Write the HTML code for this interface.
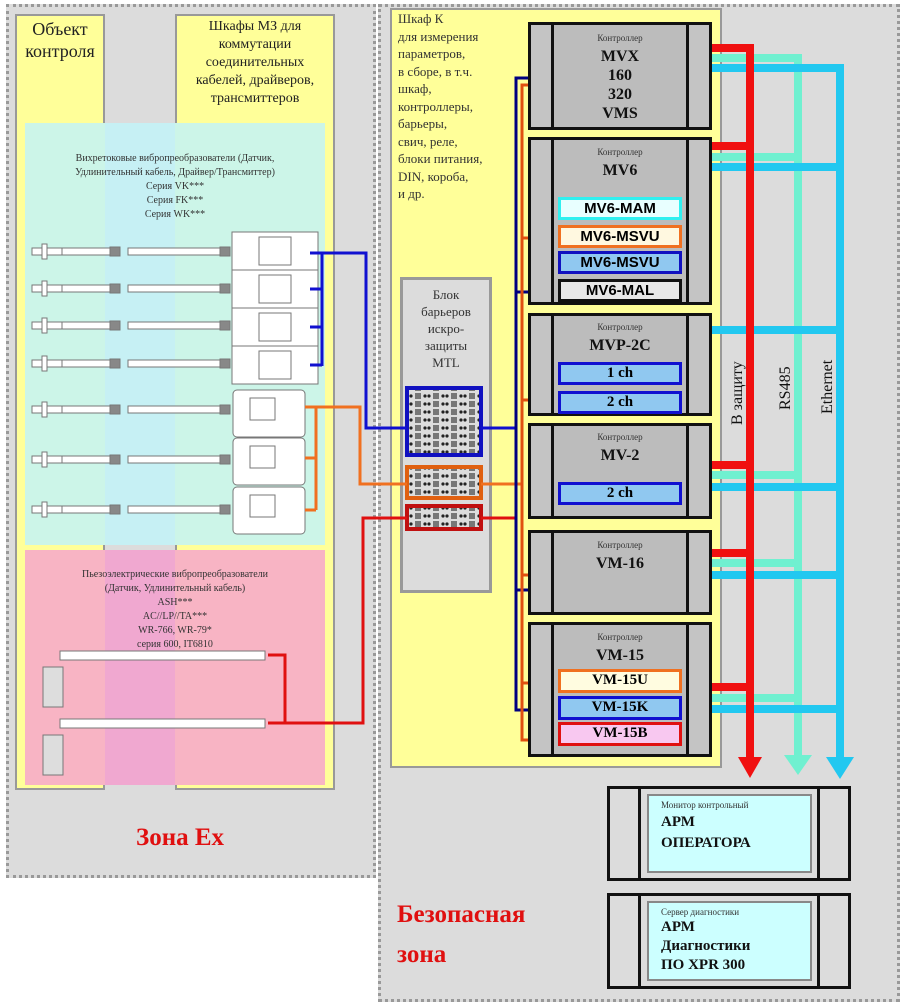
<!DOCTYPE html>
<html><head><meta charset="utf-8">
<style>
*{margin:0;padding:0;box-sizing:border-box}
body{width:904px;height:1005px;background:#fff;position:relative;overflow:hidden;font-family:"Liberation Serif",serif}
.a{position:absolute}
.zone{border:3px dotted #999;background:#dcdcdc}
.ctl{border:3px solid #111;background:#c4c4c4}
.ctl .m{position:absolute;left:20px;right:20px;top:0;bottom:0;border-left:3px solid #111;border-right:3px solid #111;background:#bcbcbc}
.sm{font-size:9px;color:#333;text-align:center}
.big{font-weight:bold;font-size:16px;text-align:center;line-height:19px;color:#111}
.sub{position:absolute;left:27px;right:27px;border:3px solid;font-weight:bold;text-align:center;font-size:15px;line-height:17px}
.ar{font-family:"Liberation Sans",sans-serif}
</style></head><body>
<div class="a zone" style="left:6px;top:4px;width:370px;height:874px"></div>
<div class="a zone" style="left:378px;top:4px;width:522px;height:998px"></div>
<div class="a" style="left:15px;top:14px;width:90px;height:776px;background:#ffff99;border:2px solid #999"></div>
<div class="a" style="left:175px;top:14px;width:160px;height:776px;background:#ffff99;border:2px solid #999"></div>
<div class="a" style="left:15px;top:18px;width:90px;text-align:center;font-size:18px;line-height:22px;color:#222">Объект контроля</div>
<div class="a" style="left:180px;top:18px;width:150px;text-align:center;font-size:14px;line-height:18px;color:#222">Шкафы МЗ для коммутации соединительных кабелей, драйверов, трансмиттеров</div>
<div class="a" style="left:25px;top:123px;width:300px;height:422px;background:#ccf5e8"></div>
<div class="a" style="left:105px;top:123px;width:70px;height:422px;background:#c6f0f4"></div>
<div class="a" style="left:25px;top:550px;width:300px;height:235px;background:#f8b4c4"></div>
<div class="a" style="left:105px;top:550px;width:70px;height:235px;background:#f0a8d0"></div>
<div class="a" style="left:25px;top:152px;width:300px;text-align:center;font-size:10px;line-height:14px;color:#333">Вихретоковые вибропреобразователи (Датчик,<br>Удлинительный кабель, Драйвер/Трансмиттер)<br>Серия VK***<br>Серия FK***<br>Серия WK***</div>
<div class="a" style="left:25px;top:568px;width:300px;text-align:center;font-size:10px;line-height:14px;color:#333">Пьезоэлектрические вибропреобразователи<br>(Датчик, Удлинительный кабель)<br>ASH***<br>AC//LP//TA***<br>WR-766, WR-79*<br>серия 600, IT6810</div>
<div class="a" style="left:136px;top:824px;color:#e01010;font-weight:bold;font-size:25px">Зона Ex</div>

<div class="a" style="left:390px;top:8px;width:332px;height:760px;background:#ffff99;border:2px solid #999"></div>
<div class="a" style="left:398px;top:10px;font-size:13px;line-height:17.5px;color:#333">Шкаф К<br>для измерения<br>параметров,<br>в сборе, в т.ч.<br>шкаф,<br>контроллеры,<br>барьеры,<br>свич, реле,<br>блоки питания,<br>DIN, короба,<br>и др.</div>
<div class="a" style="left:400px;top:277px;width:92px;height:316px;background:#dcdcdc;border:3px solid #999"></div>
<div class="a" style="left:400px;top:286px;width:92px;text-align:center;font-size:13px;line-height:17px;color:#333">Блок<br>барьеров<br>искро-<br>защиты<br>MTL</div>

<svg class="a" style="left:0;top:0" width="904" height="1005">
<defs><pattern id="p" width="18" height="8" patternUnits="userSpaceOnUse"><rect width="18" height="8" fill="#ddd"/><rect x="1" y="1" width="6" height="6" fill="#777"/><circle cx="11" cy="4" r="1.6" fill="#222"/><circle cx="15" cy="4" r="1.6" fill="#222"/></pattern></defs>
<g fill="#fff" stroke="#777" stroke-width="1">
<g id="s"><rect x="32" y="248" width="30" height="7"/><rect x="42" y="244" width="5" height="15"/><rect x="62" y="248" width="55" height="7"/><rect x="110" y="247" width="10" height="9" fill="#888"/><rect x="128" y="248" width="100" height="7"/><rect x="220" y="247" width="10" height="9" fill="#888"/></g>
<use href="#s" y="37"/><use href="#s" y="74"/><use href="#s" y="112"/><use href="#s" y="158"/><use href="#s" y="208"/><use href="#s" y="258"/>
<rect x="232" y="232" width="86" height="38"/><rect x="232" y="270" width="86" height="38"/><rect x="232" y="308" width="86" height="38"/><rect x="232" y="346" width="86" height="38"/>
<rect x="259" y="237" width="32" height="28"/><rect x="259" y="275" width="32" height="28"/><rect x="259" y="313" width="32" height="28"/><rect x="259" y="351" width="32" height="28"/>
<rect x="233" y="390" width="72" height="47" rx="4"/><rect x="233" y="438" width="72" height="47" rx="4"/><rect x="233" y="487" width="72" height="47" rx="4"/>
<rect x="250" y="398" width="25" height="22"/><rect x="250" y="446" width="25" height="22"/><rect x="250" y="495" width="25" height="22"/>
<rect x="60" y="651" width="205" height="9"/><rect x="60" y="719" width="205" height="9"/>
<rect x="43" y="667" width="20" height="40" fill="#ddd"/><rect x="43" y="735" width="20" height="40" fill="#ddd"/>
</g>
<rect x="407" y="388" width="74" height="67" fill="url(#p)" stroke="#1010c0" stroke-width="4"/>
<rect x="407" y="467" width="74" height="31" fill="url(#p)" stroke="#e06010" stroke-width="4"/>
<rect x="407" y="506" width="74" height="23" fill="url(#p)" stroke="#c01010" stroke-width="4"/>
<g fill="none" stroke-width="3">
<path d="M310 253H366V428H407M322 253V366M310 289H322M310 327H322M310 365H322M481 428H516" stroke="#1010d0"/>
<path d="M305 407H360V484H407M316 407V510M305 458H316M305 510H316M481 484H522" stroke="#f07020"/>
<path d="M268 655H285V723M268 723H363V518H407M481 518H516" stroke="#e01010"/>
<path d="M528 78H516V710H528M516 292H528M516 590H528" stroke="#000080"/>
<path d="M528 85H522V740H528M522 238H528M522 400H528M522 575H528M522 683H528" stroke="#e05010"/>
</g>
<g fill="none" stroke-width="8">
<path d="M712 58H798V760M712 157H798M712 475H798M712 563H798M712 698H798" stroke="#70f0d0"/>
<path d="M712 68H840V760M712 167H840M712 330H840M712 487H840M712 575H840M712 709H840" stroke="#22c8f0"/>
<path d="M712 48H750V760M712 146H750M712 465H750M712 553H750M712 687H750" stroke="#f01010"/>
</g>
<path d="M738 757H762L750 778Z" fill="#f01010"/>
<path d="M784 755H812L798 775Z" fill="#70f0d0"/>
<path d="M826 757H854L840 779Z" fill="#22c8f0"/>
<text transform="translate(742,425) rotate(-90)" font-family="Liberation Serif" font-size="16" fill="#111">В защиту</text>
<text transform="translate(790,410) rotate(-90)" font-family="Liberation Serif" font-size="16" fill="#111">RS485</text>
<text transform="translate(832,414) rotate(-90)" font-family="Liberation Serif" font-size="16" fill="#111">Ethernet</text>
</svg>

<div class="a ctl" style="left:528px;top:22px;width:184px;height:108px"><div class="m"></div><div class="a sm" style="left:0;right:0;top:8px">Контроллер</div><div class="a big" style="left:0;right:0;top:22px">MVX<br>160<br>320<br>VMS</div></div>
<div class="a ctl" style="left:528px;top:137px;width:184px;height:168px"><div class="m"></div><div class="a sm" style="left:0;right:0;top:7px">Контроллер</div><div class="a big" style="left:0;right:0;top:21px">MV6</div>
<div class="sub ar" style="top:57px;height:23px;border-color:#30f0f0;background:#e8ffff">MV6-MAM</div>
<div class="sub ar" style="top:85px;height:23px;border-color:#f07020;background:#fff8e0">MV6-MSVU</div>
<div class="sub ar" style="top:111px;height:23px;border-color:#1010c0;background:#90c8f0">MV6-MSVU</div>
<div class="sub ar" style="top:139px;height:23px;border-color:#111;background:#e8e8e8">MV6-MAL</div></div>
<div class="a ctl" style="left:528px;top:313px;width:184px;height:103px"><div class="m"></div><div class="a sm" style="left:0;right:0;top:6px">Контроллер</div><div class="a big" style="left:0;right:0;top:20px">MVP-2C</div>
<div class="sub" style="top:46px;height:23px;border-color:#1010d0;background:#90c8f0">1 ch</div>
<div class="sub" style="top:75px;height:23px;border-color:#1010d0;background:#90c8f0">2 ch</div></div>
<div class="a ctl" style="left:528px;top:423px;width:184px;height:96px"><div class="m"></div><div class="a sm" style="left:0;right:0;top:6px">Контроллер</div><div class="a big" style="left:0;right:0;top:20px">MV-2</div>
<div class="sub" style="top:56px;height:23px;border-color:#1010d0;background:#90c8f0">2 ch</div></div>
<div class="a ctl" style="left:528px;top:530px;width:184px;height:85px"><div class="m"></div><div class="a sm" style="left:0;right:0;top:7px">Контроллер</div><div class="a big" style="left:0;right:0;top:21px">VM-16</div></div>
<div class="a ctl" style="left:528px;top:622px;width:184px;height:135px"><div class="m"></div><div class="a sm" style="left:0;right:0;top:7px">Контроллер</div><div class="a big" style="left:0;right:0;top:21px">VM-15</div>
<div class="sub" style="top:44px;height:24px;border-color:#f07020;background:#fffce0">VM-15U</div>
<div class="sub" style="top:71px;height:24px;border-color:#1010d0;background:#90c8f0">VM-15K</div>
<div class="sub" style="top:97px;height:24px;border-color:#e01010;background:#f8c8f0">VM-15B</div></div>

<div class="a" style="left:607px;top:786px;width:244px;height:95px;border:3px solid #111;background:#dcdcdc"><div class="a" style="left:28px;right:28px;top:0;bottom:0;border-left:3px solid #111;border-right:3px solid #111"></div><div class="a" style="left:37px;right:36px;top:5px;bottom:5px;background:#ccffff;border:2px solid #888;padding:4px 12px;font-size:9px;color:#333">Монитор контрольный<div style="font-weight:bold;font-size:15px;line-height:21px;color:#111;margin-top:2px">АРМ<br>ОПЕРАТОРА</div></div></div>
<div class="a" style="left:607px;top:893px;width:244px;height:96px;border:3px solid #111;background:#dcdcdc"><div class="a" style="left:28px;right:28px;top:0;bottom:0;border-left:3px solid #111;border-right:3px solid #111"></div><div class="a" style="left:37px;right:36px;top:5px;bottom:5px;background:#ccffff;border:2px solid #888;padding:4px 12px;font-size:9px;color:#333">Сервер диагностики<div style="font-weight:bold;font-size:15px;line-height:19px;color:#111;margin-top:1px">АРМ<br>Диагностики<br>ПО XPR 300</div></div></div>

<div class="a" style="left:397px;top:895px;color:#e01010;font-weight:bold;font-size:25px;line-height:40px">Безопасная<br>зона</div>
</body></html>
